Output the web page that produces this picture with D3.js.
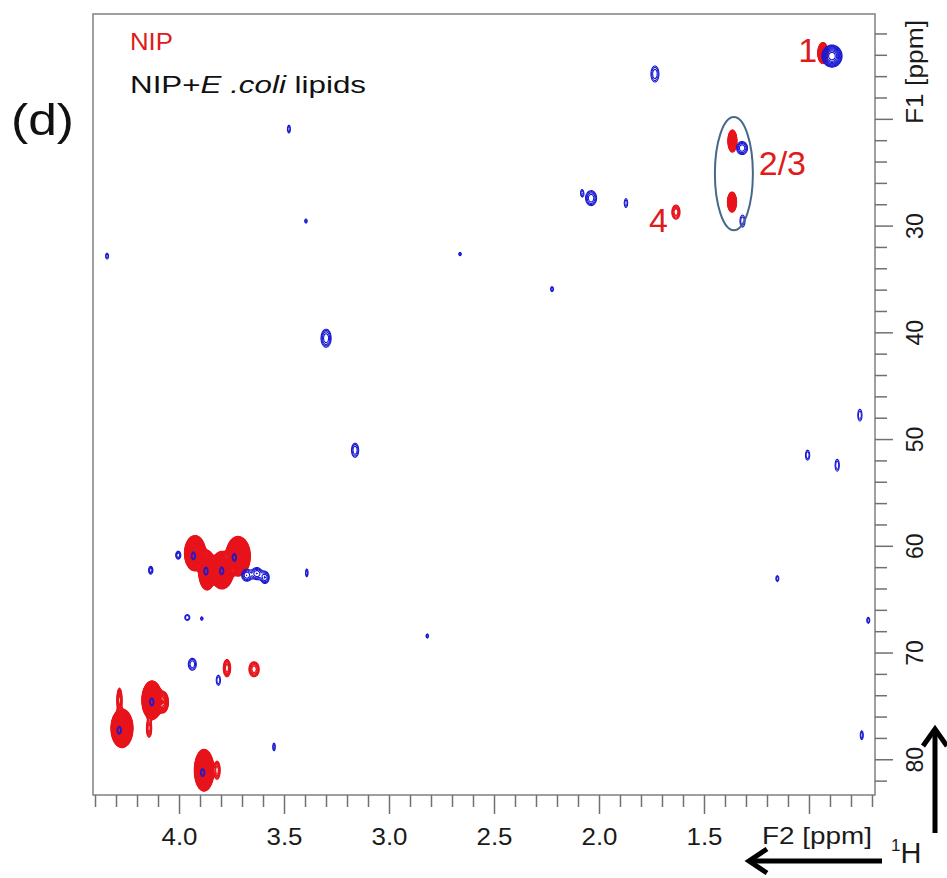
<!DOCTYPE html>
<meta charset="utf-8">
<style>
  body { margin: 0; background: #fff; }
  text { font-family: "Liberation Sans", Arial, sans-serif; }
</style>
<body>
<script src="https://cdn.jsdelivr.net/npm/d3@7"></script>
<script>

// peak tables: [1H ppm, 13C ppm, 1H half extent (ppm), 13C half extent (ppm), contour levels]
var nipPeaks = [
  [0.936, 13.79, 0.024, 0.98, 14],
  [1.367, 22.03, 0.021, 1.03, 12],
  [1.369, 27.75, 0.021, 0.94, 12],
  [1.636, 28.69, 0.019, 0.66, 4],
  [3.926, 60.65, 0.050, 1.65, 20],
  [3.869, 62.24, 0.040, 1.85, 20],
  [3.798, 62.24, 0.055, 1.75, 20],
  [3.721, 60.93, 0.058, 1.85, 20],
  [3.774, 71.42, 0.017, 0.80, 5],
  [3.645, 71.52, 0.024, 0.70, 5],
  [4.274, 77.05, 0.052, 1.80, 22],
  [4.286, 74.42, 0.012, 1.12, 6],
  [4.131, 74.42, 0.048, 1.80, 22],
  [4.079, 74.60, 0.026, 1.00, 9],
  [4.145, 77.05, 0.012, 0.84, 5],
  [3.883, 80.98, 0.046, 1.95, 22],
  [3.821, 80.98, 0.014, 0.84, 5]
];

var lipidPeaks = [
  [0.893, 14.07, 0.048, 1.03, 9],
  [1.321, 22.69, 0.026, 0.61, 4],
  [1.319, 29.53, 0.012, 0.56, 2],
  [2.083, 26.91, 0.007, 0.33, 2],
  [2.040, 27.38, 0.026, 0.70, 4],
  [1.874, 27.84, 0.008, 0.42, 2],
  [2.226, 35.90, 0.007, 0.23, 2],
  [3.479, 20.91, 0.007, 0.37, 2],
  [3.398, 29.53, 0.006, 0.19, 2],
  [4.345, 32.81, 0.007, 0.28, 2],
  [2.664, 32.62, 0.006, 0.16, 2],
  [3.302, 40.50, 0.024, 0.84, 4],
  [3.164, 51.00, 0.017, 0.66, 3],
  [0.760, 47.71, 0.010, 0.56, 2],
  [1.009, 51.46, 0.010, 0.47, 2],
  [0.868, 52.40, 0.010, 0.56, 2],
  [1.153, 63.02, 0.007, 0.28, 2],
  [0.720, 66.93, 0.007, 0.28, 2],
  [0.751, 77.70, 0.007, 0.42, 2],
  [1.736, 15.75, 0.019, 0.75, 3],
  [2.820, 68.40, 0.006, 0.19, 2],
  [4.006, 60.83, 0.012, 0.37, 3],
  [4.137, 62.24, 0.010, 0.37, 3],
  [3.394, 62.49, 0.006, 0.37, 2],
  [3.680, 62.71, 0.024, 0.56, 4],
  [3.632, 62.55, 0.024, 0.56, 4],
  [3.593, 62.92, 0.020, 0.56, 4],
  [3.963, 66.67, 0.012, 0.28, 2],
  [3.894, 66.77, 0.006, 0.16, 2],
  [3.939, 71.05, 0.019, 0.56, 3],
  [3.815, 72.55, 0.010, 0.47, 2],
  [3.550, 78.80, 0.006, 0.37, 2],
  [3.934, 60.90, 0.010, 0.37, 2],
  [3.874, 62.33, 0.010, 0.37, 2],
  [3.799, 62.30, 0.010, 0.37, 2],
  [3.739, 61.05, 0.010, 0.37, 2],
  [4.287, 77.24, 0.010, 0.37, 2],
  [4.132, 74.58, 0.010, 0.37, 2],
  [3.890, 81.20, 0.010, 0.37, 2]
];

var hDomain = [4.412, 0.688],
    cDomain = [10.13, 83.3];
var hTicks = d3.range(7, 45).map(function(k) { return k / 10; });
var hLabels = [4.0, 3.5, 3.0, 2.5, 2.0, 1.5];
var cTicks = d3.range(12, 84, 2);
var cLabels = [30, 40, 50, 60, 70, 80];

// peak annotations: text, 1H, 13C
var peakLabels = [["1", 1.009, 14.6], ["2/3", 1.129, 25.22], ["4", 1.719, 30.56]];
var circled = [1.360, 25.08, 0.0905, 5.30];

var width = 947, height = 878,
    pLeft = 93, pTop = 14, pRight = 875, pBottom = 795;

var x = d3.scaleLinear().domain(hDomain).range([pLeft, pRight]);
var y = d3.scaleLinear().domain(cDomain).range([pTop, pBottom]);

var svg = d3.select("body").append("svg")
    .attr("width", width)
    .attr("height", height);

// build a contour field from a peak list on a 1px grid
var gw = pRight - pLeft, gh = pBottom - pTop;

function field(peaks, q) {
  var v = new Float64Array(gw * gh);
  peaks.forEach(function(p) {
    var amp = Math.pow(q, p[4]);
    var k = Math.sqrt(2 * Math.log(amp));
    var cx = x(p[0]) - pLeft, cy = y(p[1]) - pTop;
    var sx = Math.max(Math.abs(x(p[0] + p[2] / k) - x(p[0])), 0.55),
        sy = Math.max(Math.abs(y(p[1] + p[3] / k) - y(p[1])), 0.55);
    var i0 = Math.max(0, Math.floor(cx - 5 * sx)), i1 = Math.min(gw - 1, Math.ceil(cx + 5 * sx)),
        j0 = Math.max(0, Math.floor(cy - 5 * sy)), j1 = Math.min(gh - 1, Math.ceil(cy + 5 * sy));
    for (var j = j0; j <= j1; j++) {
      var dy = (j + 0.5 - cy) / sy;
      for (var i = i0; i <= i1; i++) {
        var dx = (i + 0.5 - cx) / sx;
        v[i + j * gw] += amp * Math.exp(-0.5 * (dx * dx + dy * dy));
      }
    }
  });
  return v;
}

// fillFrom: contour index from which the level is drawn filled (strong peaks look solid)
function drawSpectrum(peaks, q, nLevels, color, sw, fillFrom) {
  var levels = d3.range(nLevels).map(function(k) { return Math.pow(q, k); });
  var conts = d3.contours().size([gw, gh]).thresholds(levels)(field(peaks, q));
  svg.append("g")
      .attr("transform", "translate(" + pLeft + "," + pTop + ")")
    .selectAll("path")
    .data(conts)
    .enter().append("path")
      .attr("d", d3.geoPath())
      .attr("fill", function(d, i) { return i === fillFrom ? color : "none"; })
      .attr("stroke", color)
      .attr("stroke-width", sw);
}

drawSpectrum(nipPeaks, 1.25, 30, "#e8141b", 1.3, 9);
drawSpectrum(lipidPeaks, 1.35, 14, "#1a1ad2", 1.1, -1);

// frame
svg.append("rect")
    .attr("x", pLeft).attr("y", pTop)
    .attr("width", pRight - pLeft).attr("height", pBottom - pTop)
    .attr("fill", "none")
    .attr("stroke", "#808080")
    .attr("stroke-width", 1.5);

// bottom ticks
svg.append("g").selectAll("line")
    .data(hTicks)
    .enter().append("line")
      .attr("x1", function(d) { return x(d); })
      .attr("x2", function(d) { return x(d); })
      .attr("y1", pBottom)
      .attr("y2", function(d) { return Math.round(d * 10) % 5 === 0 ? pBottom + 19 : pBottom + 12; })
      .attr("stroke", "#707070")
      .attr("stroke-width", 1.5);

svg.append("g").selectAll("text")
    .data(hLabels)
    .enter().append("text")
      .attr("x", function(d) { return x(d); })
      .attr("y", 845)
      .attr("text-anchor", "middle")
      .attr("font-size", 24)
      .attr("textLength", 36)
      .attr("lengthAdjust", "spacingAndGlyphs")
      .attr("fill", "#1a1a1a")
      .text(d3.format(".1f"));

svg.append("text")
    .attr("x", 762).attr("y", 844)
    .attr("font-size", 24)
    .attr("textLength", 110)
    .attr("lengthAdjust", "spacingAndGlyphs")
    .attr("fill", "#1a1a1a")
    .text("F2 [ppm]");

// right ticks
svg.append("g").selectAll("line")
    .data(cTicks)
    .enter().append("line")
      .attr("y1", function(d) { return y(d); })
      .attr("y2", function(d) { return y(d); })
      .attr("x1", pRight)
      .attr("x2", function(d) { return d % 10 === 0 ? pRight + 18 : pRight + 12; })
      .attr("stroke", "#707070")
      .attr("stroke-width", 1.5);

svg.append("g").selectAll("text")
    .data(cLabels)
    .enter().append("text")
      .attr("transform", function(d) { return "translate(923," + y(d) + ")rotate(-90)"; })
      .attr("text-anchor", "middle")
      .attr("font-size", 23)
      .attr("fill", "#1a1a1a")
      .text(function(d) { return d; });

svg.append("text")
    .attr("transform", "translate(923,72)rotate(-90)")
    .attr("text-anchor", "middle")
    .attr("font-size", 23)
    .attr("textLength", 104)
    .attr("lengthAdjust", "spacingAndGlyphs")
    .attr("fill", "#1a1a1a")
    .text("F1 [ppm]");

// 1H label and arrows
var h1 = svg.append("text").attr("x", 891).attr("y", 863).attr("fill", "#1a1a1a");
h1.append("tspan").attr("font-size", 17).attr("dy", -12).text("1");
h1.append("tspan").attr("font-size", 29).attr("dy", 12).text("H");

svg.append("line")
    .attr("x1", 882).attr("y1", 861).attr("x2", 750).attr("y2", 861)
    .attr("stroke", "#000").attr("stroke-width", 5);
svg.append("polyline")
    .attr("points", "767,849 749,861 767,873")
    .attr("fill", "none").attr("stroke", "#000").attr("stroke-width", 5);

svg.append("line")
    .attr("x1", 935).attr("y1", 833).attr("x2", 935).attr("y2", 730)
    .attr("stroke", "#000").attr("stroke-width", 5);
svg.append("polyline")
    .attr("points", "923,746 935,729 947,746")
    .attr("fill", "none").attr("stroke", "#000").attr("stroke-width", 5);

// panel letter and legend
svg.append("text")
    .attr("x", 11).attr("y", 135)
    .attr("font-size", 45)
    .attr("textLength", 63)
    .attr("lengthAdjust", "spacingAndGlyphs")
    .attr("fill", "#111")
    .text("(d)");

svg.append("text")
    .attr("x", 130).attr("y", 50)
    .attr("font-size", 24)
    .attr("textLength", 43)
    .attr("lengthAdjust", "spacingAndGlyphs")
    .attr("fill", "#e01b1b")
    .text("NIP");

var leg = svg.append("text")
    .attr("x", 130).attr("y", 93)
    .attr("font-size", 24)
    .attr("textLength", 236)
    .attr("lengthAdjust", "spacingAndGlyphs")
    .attr("fill", "#111");
leg.append("tspan").text("NIP+");
leg.append("tspan").attr("font-style", "italic").text("E .coli");
leg.append("tspan").text(" lipids");

// peak annotations
svg.append("g").selectAll("text")
    .data(peakLabels)
    .enter().append("text")
      .attr("x", function(d) { return x(d[1]); })
      .attr("y", function(d) { return y(d[2]); })
      .attr("text-anchor", "middle")
      .attr("font-size", 34)
      .attr("fill", "#e01b1b")
      .text(function(d) { return d[0]; });

svg.append("ellipse")
    .attr("cx", x(circled[0]))
    .attr("cy", y(circled[1]))
    .attr("rx", Math.abs(x(circled[0] + circled[2]) - x(circled[0])))
    .attr("ry", Math.abs(y(circled[1] + circled[3]) - y(circled[1])))
    .attr("fill", "none")
    .attr("stroke", "#46688a")
    .attr("stroke-width", 2);

</script>
</body>
